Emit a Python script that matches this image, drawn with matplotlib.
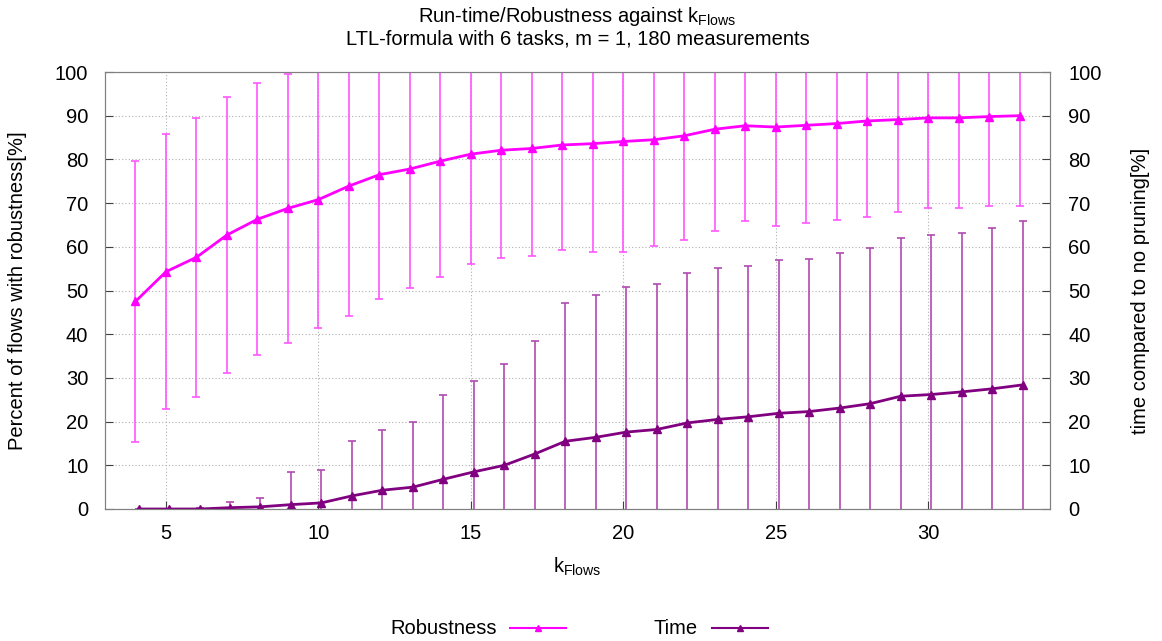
import matplotlib
matplotlib.use("Agg")
import matplotlib.pyplot as plt
import numpy as np
from matplotlib.lines import Line2D

plt.rcParams['font.family'] = ['Liberation Sans', 'DejaVu Sans']

k = list(range(4, 34))
robustness = [47.5, 54.3, 57.6, 62.7, 66.3, 68.8, 70.8, 73.9, 76.5, 77.8,
              79.6, 81.2, 82.1, 82.5, 83.3, 83.6, 84.1, 84.5, 85.4, 86.9,
              87.7, 87.4, 87.8, 88.2, 88.8, 89.1, 89.5, 89.5, 89.8, 90.0]
robustness_low = [15.4, 22.8, 25.7, 31.2, 35.2, 38.1, 41.4, 44.2, 48.1, 50.5,
                  53.1, 56.1, 57.4, 57.8, 59.2, 58.7, 58.9, 60.2, 61.6, 63.7,
                  65.9, 64.8, 65.4, 66.1, 66.9, 68.0, 68.9, 68.9, 69.4, 69.4]
time = [0.0, 0.0, 0.0, 0.3, 0.5, 1.0, 1.4, 3.0, 4.3, 5.0,
        6.8, 8.5, 10.0, 12.6, 15.5, 16.4, 17.6, 18.2, 19.7, 20.5,
        21.1, 21.9, 22.3, 23.1, 24.1, 25.8, 26.2, 26.8, 27.5, 28.4]
time_high = [0.0, 0.0, 0.2, 1.7, 2.5, 8.5, 9.0, 15.6, 18.0, 19.9,
             26.0, 29.3, 33.2, 38.5, 47.2, 48.9, 50.7, 51.6, 54.0, 55.1,
             55.6, 57.0, 57.3, 58.5, 59.7, 62.0, 62.6, 63.2, 64.3, 65.9]

k_arr = np.array(k, dtype=float)
rob = np.array(robustness)
rob_err = rob - np.array(robustness_low)
tim = np.array(time)
tim_err = np.array(time_high) - tim

W, H = 1162, 641
FS = 14.5
fig = plt.figure(figsize=(W/100, H/100), dpi=100)
ax = fig.add_axes([105/W, 1 - 509/H, (1050-105)/W, (509-72)/H])

c_rob = '#ff00ff'
c_rob_err = '#ff55ff'
c_time = '#800080'
c_time_err = '#b04ab0'

ax.errorbar(k_arr, rob, yerr=rob_err, fmt='none', ecolor=c_rob_err,
            elinewidth=1.2, capsize=3, capthick=1.2, zorder=2)
ax.plot(k_arr, rob, color=c_rob, lw=2, marker='^', ms=6, zorder=4)

tx = k_arr + 0.1
ax.errorbar(tx, tim, yerr=tim_err, fmt='none', ecolor=c_time_err,
            elinewidth=1.2, capsize=3, capthick=1.2, zorder=2)
ax.plot(tx, tim, color=c_time, lw=2, marker='^', ms=6, zorder=4)

ax.set_xlim(3, 34)
ax.set_ylim(0, 100)
ax.set_xticks([5, 10, 15, 20, 25, 30])
ax.set_yticks(range(0, 101, 10))
ax.grid(True, color='#b0b0b0', linestyle=(0, (1, 2)), linewidth=0.8)
for s in ax.spines.values():
    s.set_color('#808080')
ax.tick_params(axis='y', direction='in', length=6, labelsize=FS, color='#404040',
               pad=12, right=False)
ax.tick_params(axis='x', direction='in', length=6, labelsize=FS, color='#404040',
               pad=11, top=False)

ax2 = ax.twinx()
ax2.set_ylim(0, 100)
ax2.set_yticks(range(0, 101, 10))
ax2.tick_params(direction='in', length=6, labelsize=FS, color='#404040', pad=13)
for s in ax2.spines.values():
    s.set_color('#808080')

yc = 1 - 291/H
cx = 577.5/W
fig.text(18/W, yc, 'Percent of flows with robustness[%]', rotation=90,
         ha='center', va='center', fontsize=FS)
fig.text(1141/W, yc, 'time compared to no pruning[%]', rotation=90,
         ha='center', va='center', fontsize=FS)
fig.text(cx, 1 - 567/H, r'k$_{\mathregular{Flows}}$', ha='center', va='center',
         fontsize=FS)

fig.text(cx, 1 - 16/H, r'Run-time/Robustness against k$_{\mathregular{Flows}}$',
         ha='center', va='center', fontsize=FS)
fig.text(cx, 1 - 39/H, 'LTL-formula with 6 tasks, m = 1, 180 measurements',
         ha='center', va='center', fontsize=FS)

# legend (gnuplot style: text then sample)
ly = 1 - 628/H
fig.text(497/W, ly, 'Robustness', ha='right', va='center', fontsize=FS)
fig.add_artist(Line2D([510/W, 566/W], [ly, ly], color=c_rob, lw=1.5,
                      transform=fig.transFigure))
fig.add_artist(Line2D([538/W], [ly], color=c_rob, marker='^', ms=5,
                      transform=fig.transFigure))
fig.text(698/W, ly, 'Time', ha='right', va='center', fontsize=FS)
fig.add_artist(Line2D([712/W, 768/W], [ly, ly], color=c_time, lw=1.5,
                      transform=fig.transFigure))
fig.add_artist(Line2D([740/W], [ly], color=c_time, marker='^', ms=5,
                      transform=fig.transFigure))

fig.savefig('out.png', dpi=100)
